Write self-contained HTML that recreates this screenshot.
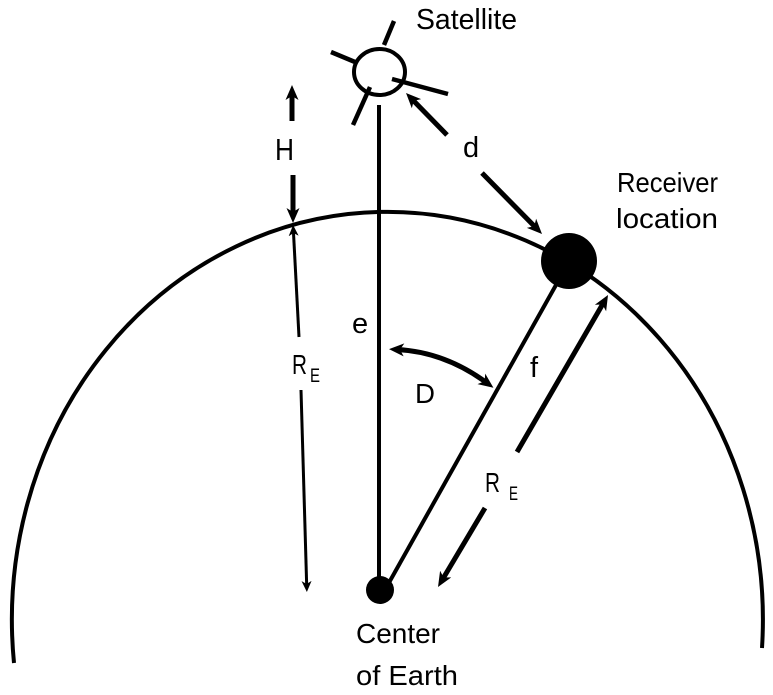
<!DOCTYPE html>
<html>
<head>
<meta charset="utf-8">
<style>
html,body{margin:0;padding:0;background:#fff;}
svg{display:block;}
text{font-family:"Liberation Sans",sans-serif;fill:#000;}
</style>
</head>
<body>
<svg width="773" height="695" viewBox="0 0 773 695" xmlns="http://www.w3.org/2000/svg">
<defs>
  <marker id="ah" markerWidth="16" markerHeight="14" refX="7" refY="7" orient="auto" markerUnits="userSpaceOnUse">
    <path d="M0,0.5 L15,7 L0,13.5 L4,7 Z" fill="#000"/>
  </marker>
  <marker id="ahs" markerWidth="16" markerHeight="14" refX="7" refY="7" orient="auto-start-reverse" markerUnits="userSpaceOnUse">
    <path d="M0,0.5 L15,7 L0,13.5 L4,7 Z" fill="#000"/>
  </marker>
  <marker id="ahThin" markerWidth="12" markerHeight="12" refX="5" refY="5.5" orient="auto" markerUnits="userSpaceOnUse">
    <path d="M0,0.5 L11,5.5 L0,10.5 L3,5.5 Z" fill="#000"/>
  </marker>
</defs>

<!-- Earth outline -->
<path d="M14,663 A375.5,408 0 1 1 762,648" fill="none" stroke="#000" stroke-width="4"/>

<!-- Satellite -->
<ellipse cx="379.5" cy="72" rx="25.5" ry="23" fill="#fff" stroke="#000" stroke-width="4"/>
<line x1="394" y1="21" x2="384" y2="45" stroke="#000" stroke-width="4.5"/>
<line x1="331" y1="52" x2="355" y2="62" stroke="#000" stroke-width="4.5"/>
<line x1="392" y1="79" x2="448" y2="94" stroke="#000" stroke-width="4.5"/>
<line x1="370" y1="87" x2="353" y2="125" stroke="#000" stroke-width="4.5"/>
<text x="416" y="29" font-size="29" textLength="101" lengthAdjust="spacingAndGlyphs">Satellite</text>

<!-- vertical line e -->
<line x1="379" y1="105" x2="379" y2="590" stroke="#000" stroke-width="4"/>

<!-- line f -->
<line x1="556" y1="285" x2="386" y2="588" stroke="#000" stroke-width="4"/>

<!-- dots -->
<circle cx="569" cy="261" r="28" fill="#000"/>
<circle cx="380" cy="590" r="14" fill="#000"/>

<!-- H arrows -->
<line x1="292" y1="121" x2="292" y2="93" stroke="#000" stroke-width="5" marker-end="url(#ah)"/>
<line x1="293" y1="175" x2="293" y2="215" stroke="#000" stroke-width="5" marker-end="url(#ah)"/>
<text x="275" y="160" font-size="31" textLength="19" lengthAdjust="spacingAndGlyphs">H</text>

<!-- left RE thin arrows -->
<line x1="299" y1="337" x2="293.4" y2="231" stroke="#000" stroke-width="3" marker-end="url(#ahThin)"/>
<line x1="301" y1="390" x2="306.7" y2="586" stroke="#000" stroke-width="3" marker-end="url(#ahThin)"/>
<text x="292" y="374" font-size="28" textLength="15" lengthAdjust="spacingAndGlyphs">R</text>
<text x="310" y="382" font-size="19" textLength="10" lengthAdjust="spacingAndGlyphs">E</text>

<!-- d arrows -->
<line x1="447" y1="135" x2="411.6" y2="98.7" stroke="#000" stroke-width="5" marker-end="url(#ah)"/>
<line x1="482" y1="173" x2="536.4" y2="228.3" stroke="#000" stroke-width="5" marker-end="url(#ah)"/>
<text x="463" y="157" font-size="29">d</text>

<!-- Receiver location -->
<text x="617" y="192" font-size="28" textLength="101" lengthAdjust="spacingAndGlyphs">Receiver</text>
<text x="616" y="228" font-size="28" textLength="102" lengthAdjust="spacingAndGlyphs">location</text>

<!-- e, f, D labels -->
<text x="352" y="333" font-size="29">e</text>
<text x="530" y="377" font-size="29">f</text>
<text x="415" y="403" font-size="28" textLength="20" lengthAdjust="spacingAndGlyphs">D</text>

<!-- D arc -->
<path d="M397,349.5 Q445,352 487,383" fill="none" stroke="#000" stroke-width="5" marker-start="url(#ahs)" marker-end="url(#ahs)"/>

<!-- right RE arrows -->
<line x1="517" y1="452" x2="604" y2="301.9" stroke="#000" stroke-width="5" marker-end="url(#ah)"/>
<line x1="485" y1="508" x2="442.1" y2="580.1" stroke="#000" stroke-width="5" marker-end="url(#ah)"/>
<text x="485" y="492" font-size="28" textLength="15" lengthAdjust="spacingAndGlyphs">R</text>
<text x="509" y="500" font-size="19" textLength="9" lengthAdjust="spacingAndGlyphs">E</text>

<!-- Center of Earth -->
<text x="356" y="643" font-size="28" textLength="84" lengthAdjust="spacingAndGlyphs">Center</text>
<text x="356" y="685" font-size="28" textLength="102" lengthAdjust="spacingAndGlyphs">of Earth</text>
</svg>
</body>
</html>
